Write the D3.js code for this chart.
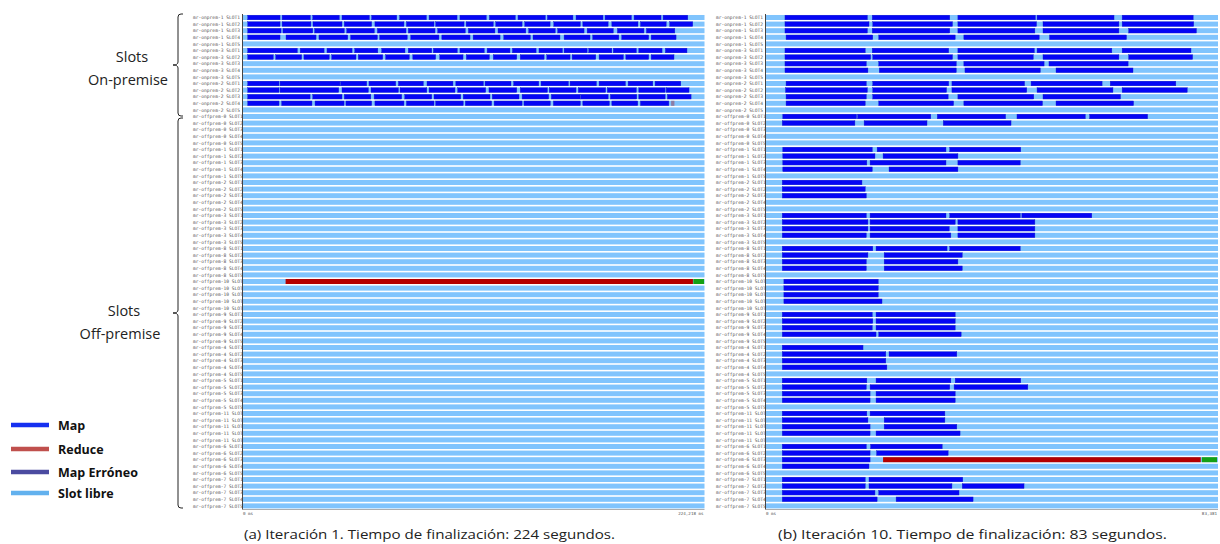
<!DOCTYPE html>
<html>
<head>
<meta charset="utf-8">
<script src="https://cdn.jsdelivr.net/npm/d3@7"></script>
<style>
  body { margin: 0; background: #fff; }
</style>
</head>
<body>
<div id="chart"></div>
<script>
// ---- data (seconds) ----
const nodes = ["mr-onprem-1", "mr-onprem-3", "mr-onprem-2", "mr-offprem-0", "mr-offprem-1",
  "mr-offprem-2", "mr-offprem-3", "mr-offprem-8", "mr-offprem-10", "mr-offprem-9",
  "mr-offprem-4", "mr-offprem-5", "mr-offprem-11", "mr-offprem-6", "mr-offprem-7"];
const slots = ["SLOT1", "SLOT2", "SLOT3", "SLOT4", "SLOT5"];

const durations = [224.218, 83.381];
const endLabels = ["224,218 ms", "83,381"];
const captions = ["(a) Iteración 1. Tiempo de finalización: 224 segundos.",
  "(b) Iteración 10. Tiempo de finalización: 83 segundos."];

const mapsIter1 = [
  ["mr-onprem-1 SLOT1", [[2.3,18.0],[19.0,32.7],[33.9,46.8],[48.1,61.4],[62.5,74.7],[76.1,89.1],[90.4,104.0],[105.4,118.2],[119.7,132.3],[133.6,146.9],[147.9,160.3],[161.8,174.9],[175.9,188.7],[190.0,203.1],[204.1,216.1]]],
  ["mr-onprem-1 SLOT2", [[2.3,18.0],[19.0,33.0],[34.0,48.1],[49.2,62.5],[64.1,78.2],[79.4,92.8],[93.6,107.4],[108.4,121.6],[122.8,135.6],[136.9,149.2],[151.0,163.9],[165.1,177.4],[179.2,191.9],[193.1,205.6],[207.3,218.5]]],
  ["mr-onprem-1 SLOT3", [[2.3,18.5],[19.4,33.9],[34.8,49.2],[50.4,63.8],[65.3,79.2],[80.3,93.3],[94.6,108.0],[109.5,122.4],[123.9,137.4],[138.8,151.7],[152.9,165.7],[167.2,179.9],[181.9,194.8],[196.0,209.8]]],
  ["mr-onprem-1 SLOT4", [[2.3,18.0],[20.9,35.5],[36.9,50.9],[52.3,65.3],[66.4,79.8],[81.5,95.2],[96.6,110.3],[111.8,124.9],[126.7,139.6],[140.9,154.0],[156.0,168.6],[169.9,182.6],[184.0,197.1],[198.3,210.4]]],
  ["mr-onprem-3 SLOT1", [[2.3,26.4],[27.8,39.4],[40.8,53.0],[54.3,65.5],[67.4,78.7],[80.3,91.7],[92.5,104.1],[105.4,117.2],[118.6,129.7],[130.9,142.4],[143.8,155.2],[156.0,167.2],[168.0,179.2],[179.9,191.1],[192.3,203.6],[205.2,215.7]]],
  ["mr-onprem-3 SLOT2", [[2.3,14.7],[15.9,28.5],[29.6,41.9],[43.1,54.9],[56.0,67.9],[69.3,80.8],[82.5,93.6],[95.6,106.9],[108.5,119.7],[121.6,133.0],[134.7,146.3],[147.6,158.9],[159.9,171.4],[173.0,184.8],[186.0,197.1],[198.3,209.4]]],
  ["mr-onprem-2 SLOT1", [[2.3,17.5],[18.0,47.1],[47.4,60.1],[61.2,74.2],[75.5,87.6],[89.4,102.0],[103.4,116.8],[117.6,130.2],[131.5,143.7],[144.8,158.1],[158.9,171.7],[173.0,185.8],[187.1,199.1],[200.2,212.7]]],
  ["mr-onprem-2 SLOT2", [[2.3,17.5],[18.0,46.5],[48.1,60.9],[62.2,75.5],[76.3,89.3],[90.4,103.0],[104.3,117.9],[119.5,133.0],[134.7,147.9],[148.8,161.8],[162.9,176.2],[177.0,191.1],[192.3,205.1],[205.6,216.7]]],
  ["mr-onprem-2 SLOT3", [[2.3,32.6],[33.9,48.1],[49.2,62.1],[63.7,77.1],[78.6,91.7],[92.8,105.8],[107.0,120.0],[121.1,134.1],[135.6,148.5],[149.8,163.8],[164.1,177.4],[178.5,191.3],[192.3,205.1],[206.2,217.7]]],
  ["mr-onprem-2 SLOT4", [[2.3,17.5],[18.8,33.5],[35.0,49.1],[50.0,62.5],[64.1,78.2],[79.4,92.8],[93.6,107.0],[108.0,120.8],[122.0,135.6],[136.5,149.3],[150.8,163.9],[165.1,178.0],[179.2,191.8],[193.1,206.9]]]
];
const errorsIter1 = [["mr-onprem-2 SLOT4", 208.0, 209.6]];
const reducesIter1 = [["mr-offprem-10 SLOT1", 20.7, 218.6]];
const finishIter1 = [["mr-offprem-10 SLOT1", 218.8, 224.0]];

const mapsIter10 = [
  ["mr-onprem-1 SLOT1", [[3.5,18.7],[19.6,33.9],[35.4,49.7],[50.0,64.2],[65.7,78.8]]],
  ["mr-onprem-1 SLOT2", [[3.5,19.0],[19.7,34.4],[35.4,49.9],[51.1,65.1],[65.7,78.9]]],
  ["mr-onprem-1 SLOT3", [[3.5,18.7],[19.6,33.9],[35.4,49.6],[51.1,65.1],[66.9,79.4]]],
  ["mr-onprem-1 SLOT4", [[3.7,19.7],[20.8,34.9],[36.5,50.4],[52.3,66.5]]],
  ["mr-onprem-3 SLOT1", [[3.5,18.3],[19.6,33.7],[35.4,49.5],[50.0,63.8],[65.7,78.4]]],
  ["mr-onprem-3 SLOT2", [[3.5,19.3],[19.7,34.4],[35.4,49.3],[51.1,65.1],[66.9,78.7]]],
  ["mr-onprem-3 SLOT3", [[3.5,18.5],[20.8,35.1],[36.5,51.3],[52.2,66.8]]],
  ["mr-onprem-3 SLOT4", [[3.5,18.8],[20.9,35.1],[36.7,50.6],[53.5,67.7]]],
  ["mr-onprem-2 SLOT1", [[3.7,18.5],[19.7,33.7],[34.3,47.7],[48.9,62.0],[63.5,75.6]]],
  ["mr-onprem-2 SLOT2", [[3.6,18.7],[19.7,33.3],[34.3,48.1],[50.0,64.0],[65.7,77.7]]],
  ["mr-onprem-2 SLOT3", [[3.7,18.5],[19.7,33.6],[35.4,49.4],[51.1,65.4]]],
  ["mr-onprem-2 SLOT4", [[3.7,18.3],[20.8,34.6],[36.5,51.0],[53.5,67.8]]],
  ["mr-offprem-0 SLOT1", [[3.1,16.7],[16.9,30.4],[31.6,44.2],[46.3,58.9],[59.7,70.4]]],
  ["mr-offprem-0 SLOT2", [[3.0,16.4],[18.1,29.7],[32.7,45.2]]],
  ["mr-offprem-1 SLOT1", [[3.1,19.6],[20.5,33.2],[33.9,47.0]]],
  ["mr-offprem-1 SLOT2", [[3.1,20.1],[21.6,35.4]]],
  ["mr-offprem-1 SLOT3", [[3.1,18.6],[19.2,33.2],[35.4,46.9]]],
  ["mr-offprem-1 SLOT4", [[3.1,19.6],[22.7,35.4]]],
  ["mr-offprem-2 SLOT1", [[3.0,17.7]]],
  ["mr-offprem-2 SLOT2", [[3.0,18.3]]],
  ["mr-offprem-2 SLOT3", [[3.0,18.5]]],
  ["mr-offprem-3 SLOT1", [[3.0,18.5],[19.2,33.2],[33.9,46.9],[47.2,60.1]]],
  ["mr-offprem-3 SLOT2", [[3.0,18.8],[19.2,34.9],[35.4,49.6]]],
  ["mr-offprem-3 SLOT3", [[3.0,18.8],[19.2,33.8],[35.4,49.6]]],
  ["mr-offprem-3 SLOT4", [[3.0,18.5],[19.2,34.1],[35.4,49.6]]],
  ["mr-offprem-8 SLOT1", [[3.0,19.7],[20.3,33.4],[33.9,46.9]]],
  ["mr-offprem-8 SLOT2", [[3.0,18.8],[21.8,36.2]]],
  ["mr-offprem-8 SLOT3", [[3.0,18.5],[21.8,35.4]]],
  ["mr-offprem-8 SLOT4", [[3.0,18.5],[21.8,36.2]]],
  ["mr-offprem-10 SLOT1", [[3.3,20.7]]],
  ["mr-offprem-10 SLOT2", [[3.3,20.7]]],
  ["mr-offprem-10 SLOT3", [[3.3,20.7]]],
  ["mr-offprem-10 SLOT4", [[3.3,21.4]]],
  ["mr-offprem-9 SLOT1", [[3.0,19.6],[20.3,34.9]]],
  ["mr-offprem-9 SLOT2", [[3.0,19.7],[20.3,34.9]]],
  ["mr-offprem-9 SLOT3", [[3.0,19.6],[20.3,34.9]]],
  ["mr-offprem-9 SLOT4", [[3.0,20.3],[20.8,36.0]]],
  ["mr-offprem-4 SLOT1", [[3.0,17.9]]],
  ["mr-offprem-4 SLOT2", [[3.0,22.1],[22.7,35.2]]],
  ["mr-offprem-4 SLOT3", [[3.0,22.1]]],
  ["mr-offprem-4 SLOT4", [[3.0,22.3]]],
  ["mr-offprem-5 SLOT1", [[3.0,18.6],[20.3,34.1],[34.9,47.0]]],
  ["mr-offprem-5 SLOT2", [[3.0,18.5],[19.2,33.9],[34.7,48.3]]],
  ["mr-offprem-5 SLOT3", [[3.0,19.2],[20.3,34.9]]],
  ["mr-offprem-5 SLOT4", [[3.0,19.2],[20.3,34.9]]],
  ["mr-offprem-11 SLOT1", [[3.0,18.6],[19.2,33.0]]],
  ["mr-offprem-11 SLOT2", [[3.0,18.8],[21.8,33.0]]],
  ["mr-offprem-11 SLOT3", [[3.0,19.2],[21.8,35.2]]],
  ["mr-offprem-11 SLOT4", [[3.0,19.2],[20.3,35.8]]],
  ["mr-offprem-6 SLOT1", [[3.0,18.5],[19.3,32.5]]],
  ["mr-offprem-6 SLOT2", [[3.0,19.2],[20.4,33.6]]],
  ["mr-offprem-6 SLOT3", [[3.0,19.2]]],
  ["mr-offprem-6 SLOT4", [[3.0,19.0]]],
  ["mr-offprem-7 SLOT1", [[3.0,18.3],[19.0,36.3]]],
  ["mr-offprem-7 SLOT2", [[3.0,18.3],[19.0,34.3],[36.2,47.6]]],
  ["mr-offprem-7 SLOT3", [[3.0,20.1],[20.8,35.6]]],
  ["mr-offprem-7 SLOT4", [[3.0,20.5],[24.0,38.2]]]
];
const errorsIter10 = [];
const reducesIter10 = [["mr-offprem-6 SLOT3", 21.6, 80.2]];
const finishIter10 = [["mr-offprem-6 SLOT3", 80.4, 83.2]];

const legendItems = ["Map", "Reduce", "Map Erróneo", "Slot libre"];
const legendColors = ["#1530f0", "#c0504d", "#4b4ba0", "#62b1ee"];

// ---- drawing ----
const rows = nodes.flatMap(n => slots.map(s => n + " " + s));
const colors = { free: "#80c4fd", map: "#0505f5", mapEdge: "#1a1ac8", reduce: "#b40000", finish: "#14a014", error: "#8c7ca4" };

const svg = d3.select("#chart").append("svg")
  .attr("width", 1220)
  .attr("height", 544);

const y = d3.scaleBand().domain(rows).range([14.2, 509.2]).paddingInner(0.24).paddingOuter(0.12);

let drawPanel = (p) => {
  const x = d3.scaleLinear().domain([0, p.duration]).range([p.x0, p.x1]);
  const g = svg.append("g");

  g.selectAll("text.row").data(rows).join("text")
    .attr("class", "row")
    .attr("x", p.labelX)
    .attr("y", d => y(d) + y.bandwidth() / 2 + 1.6)
    .attr("font-family", "DejaVu Sans Mono")
    .attr("font-size", 4.6)
    .attr("fill", "#555")
    .text(d => d);

  // free slots
  g.selectAll("rect.free").data(rows).join("rect")
    .attr("x", x(0))
    .attr("y", d => y(d))
    .attr("width", x(p.duration) - x(0))
    .attr("height", y.bandwidth())
    .attr("fill", colors.free);

  const tasks = p.maps.flatMap(([r, segs]) => segs.map(s => ({ row: r, start: s[0], end: s[1] })));
  g.selectAll("rect.map").data(tasks).join("rect")
    .attr("x", d => x(d.start))
    .attr("y", d => y(d.row) + 0.2)
    .attr("width", d => x(d.end) - x(d.start))
    .attr("height", y.bandwidth() - 0.4)
    .attr("fill", colors.map)
    .attr("stroke", colors.mapEdge)
    .attr("stroke-width", 0.4);

  let simple = (data, color) => {
    g.selectAll(null).data(data).join("rect")
      .attr("x", d => x(d[1]))
      .attr("y", d => y(d[0]))
      .attr("width", d => x(d[2]) - x(d[1]))
      .attr("height", y.bandwidth())
      .attr("fill", color);
  };
  simple(p.errors, colors.error);
  simple(p.reduces, colors.reduce);
  simple(p.finish, colors.finish);

  // axes lines
  g.append("line")
    .attr("x1", p.x0 - 0.5).attr("x2", p.x0 - 0.5)
    .attr("y1", 14).attr("y2", 509.5)
    .attr("stroke", "#444").attr("stroke-width", 1);
  g.append("line")
    .attr("x1", p.x0 - 0.5).attr("x2", p.x1)
    .attr("y1", 509.5).attr("y2", 509.5)
    .attr("stroke", "#777").attr("stroke-width", 0.6);

  g.append("text")
    .attr("x", x(0)).attr("y", 514.5)
    .attr("font-family", "DejaVu Sans Mono").attr("font-size", 4.2).attr("fill", "#555")
    .text("0 ms");
  g.append("text")
    .attr("x", x(p.duration) - 1).attr("y", 514.5)
    .attr("text-anchor", "end")
    .attr("font-family", "DejaVu Sans Mono").attr("font-size", 4.2).attr("fill", "#555")
    .text(p.endLabel);

  g.append("text")
    .attr("x", p.capX).attr("y", 539)
    .attr("font-family", "Open Sans").attr("font-size", 13.2).attr("fill", "#222")
    .attr("textLength", p.capW).attr("lengthAdjust", "spacingAndGlyphs")
    .text(p.caption);
};

drawPanel({ x0: 243, x1: 704.5, labelX: 193, duration: durations[0], endLabel: endLabels[0],
  maps: mapsIter1, errors: errorsIter1, reduces: reducesIter1, finish: finishIter1,
  caption: captions[0], capX: 244, capW: 371 });
drawPanel({ x0: 766, x1: 1218, labelX: 716, duration: durations[1], endLabel: endLabels[1],
  maps: mapsIter10, errors: errorsIter10, reduces: reducesIter10, finish: finishIter10,
  caption: captions[1], capX: 778, capW: 389 });

// braces
let brace = (xb, y0, y1) => {
  const ym = (y0 + y1) / 2, r = 3;
  return `M${xb + 5},${y0} L${xb + r},${y0} Q${xb},${y0} ${xb},${y0 + r} L${xb},${ym - r}` +
    ` Q${xb},${ym} ${xb - 5},${ym} Q${xb},${ym} ${xb},${ym + r} L${xb},${y1 - r} Q${xb},${y1} ${xb + r},${y1} L${xb + 5},${y1}`;
};
svg.append("path").attr("d", brace(178, 14, 116)).attr("fill", "none").attr("stroke", "#222").attr("stroke-width", 1);
svg.append("path").attr("d", brace(178, 118, 508)).attr("fill", "none").attr("stroke", "#222").attr("stroke-width", 1);

const groupText = [["Slots", 132, 62], ["On-premise", 128, 85], ["Slots", 124, 316], ["Off-premise", 120, 339]];
svg.selectAll("text.grp").data(groupText).join("text")
  .attr("class", "grp")
  .attr("x", d => d[1]).attr("y", d => d[2])
  .attr("text-anchor", "middle")
  .attr("font-family", "Open Sans").attr("font-size", 14.5).attr("fill", "#222")
  .text(d => d[0]);

// legend
const legendY = [425, 449, 472, 493];
const lg = svg.append("g");
lg.selectAll("line").data(legendItems).join("line")
  .attr("x1", 11).attr("x2", 49)
  .attr("y1", (d, i) => legendY[i]).attr("y2", (d, i) => legendY[i])
  .attr("stroke", (d, i) => legendColors[i]).attr("stroke-width", 4.5);
lg.selectAll("text").data(legendItems).join("text")
  .attr("x", 58).attr("y", (d, i) => legendY[i] + 4.5)
  .attr("font-family", "Open Sans").attr("font-weight", 700).attr("font-size", 12.5).attr("fill", "#111")
  .text(d => d);
</script>
</body>
</html>
